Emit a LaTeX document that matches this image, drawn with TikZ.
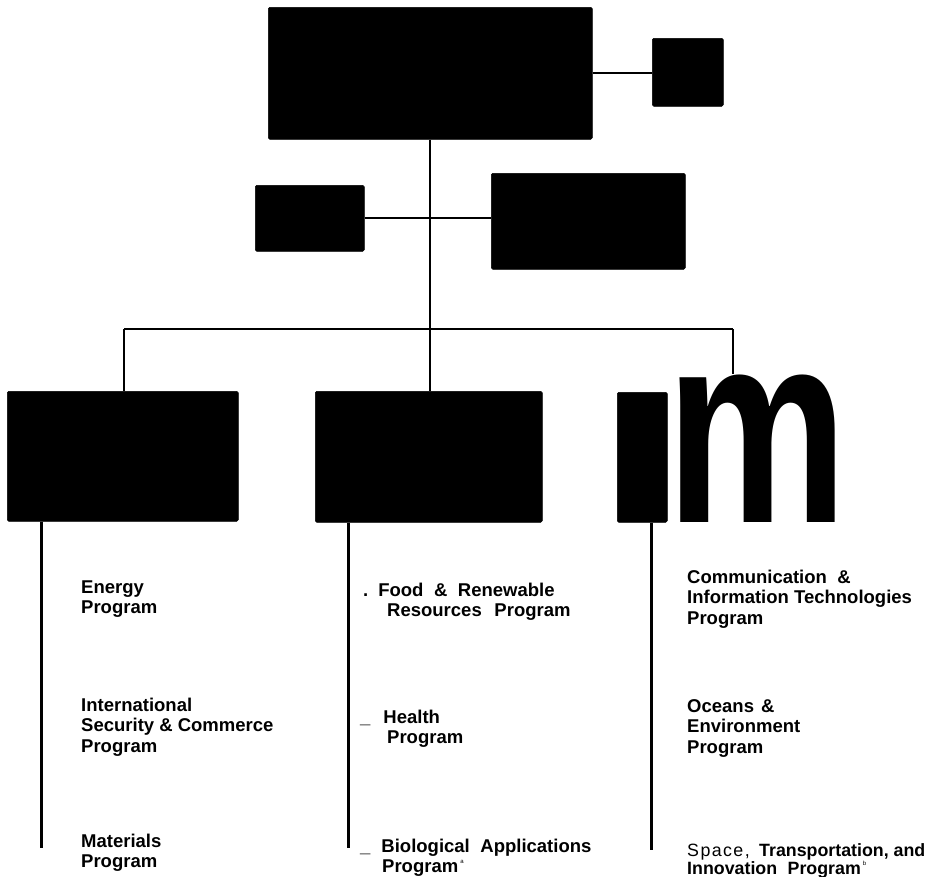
\documentclass[tikz,border=0pt]{standalone}
\usepackage{fontspec}
\setmainfont{Liberation Sans}
\newcommand\blk[1]{\vtop{#1}}
\newcommand\wsp{\hspace{10.5pt}}
\newcommand\supmark[1]{\hspace{2pt}\raisebox{9pt}{\fontsize{6}{6}\selectfont\mdseries #1}}
\begin{document}
\begin{tikzpicture}[x=1pt,y=-1pt,
  box/.style={fill=black, draw=black, line width=0.5pt, rounded corners=1.5pt, inner sep=0pt, anchor=north west},
  conn/.style={line width=2.3pt},
  drop/.style={line width=3pt},
  lbl/.style={anchor=base west, inner sep=0pt, font=\fontsize{18.5}{20.7}\selectfont\bfseries}]
\useasboundingbox (0,0) rectangle (928,876);
% boxes
\node[box, minimum width=324pt, minimum height=132pt] (top) at (268,7) {};
\node[box, minimum width=71pt, minimum height=68pt] (side) at (652,38) {};
\node[box, minimum width=109pt, minimum height=66pt] (midL) at (255,185) {};
\node[box, minimum width=194pt, minimum height=96pt] (midR) at (491,173) {};
\node[box, minimum width=231pt, minimum height=130pt] (b1) at (7,391) {};
\node[box, minimum width=227pt, minimum height=131pt] (b2) at (315,391) {};
\node[box, minimum width=50pt, minimum height=130pt] (b3) at (617,392) {};
\node[anchor=base west, inner sep=0pt] (m) at (666,522) {\scalebox{0.744}[1]{\fontsize{274}{274}\selectfont\bfseries m}};
% connectors
\coordinate (barL) at (124,329);
\coordinate (barR) at (733,329);
\draw[conn] (top.east) -- (top.east -| side.west);
\draw[conn] (midL.east) -- (midL.east -| midR.west);
\draw[conn] (top.south) -- (top.south |- barL);
\draw[conn] (barL) -- (barR);
\draw[conn] (barL) -- (barL |- b1.north);
\draw[conn] (top.south |- barL) -- (top.south |- b2.north);
\draw[conn] (barR) -- (barR |- m.north);
% drops
\coordinate (e1) at (41,848);
\coordinate (e2) at (348,848);
\coordinate (e3) at (651,850);
\draw[drop] (e1 |- b1.south) -- (e1);
\draw[drop] (e2 |- b2.south) -- (e2);
\draw[drop] (e3 |- b3.south) -- (e3);
% labels
\node[lbl] (t1) at (81,593) {\blk{\hbox{Energy}\hbox{Program}}};
\node[lbl] (t2) at (81,711) {\blk{\hbox{International}\hbox{Security \& Commerce}\hbox{Program}}};
\node[lbl] (t3) at (81,847) {\blk{\hbox{Materials}\hbox{Program}}};
\node[lbl] (t4) at (363,596) {\blk{\hbox{.\hspace{10pt}Food\wsp\&\wsp Renewable}\hbox{\hspace{24pt}Resources\hspace{12.7pt}Program}}};
\node[lbl] (t5) at (360,723) {\blk{\hbox{\_\hspace{13pt}Health}\hbox{\hspace{27pt}Program}}};
\node[lbl] (t6) at (360,852) {\blk{\hbox{\_\hspace{11pt}Biological\wsp Applications}\hbox{\hspace{22pt}Program\supmark{a}}}};
\node[lbl] (t7) at (687,583) {\blk{\hbox{Communication\wsp\&}\hbox{Information Technologies}\hbox{Program}}};
\node[lbl] (t8) at (687,712) {\blk{\hbox{Oceans\hspace{7pt}\&}\hbox{Environment}\hbox{Program}}};
\node[lbl, font=\fontsize{17.8}{18.5}\selectfont\bfseries] (t9) at (687,856) {\blk{\hbox{\makebox[72pt][l]{\mdseries\addfontfeatures{LetterSpace=8}Space,}Transportation, and}\hbox{Innovation\wsp Program\supmark{b}}}};
\end{tikzpicture}
\end{document}
